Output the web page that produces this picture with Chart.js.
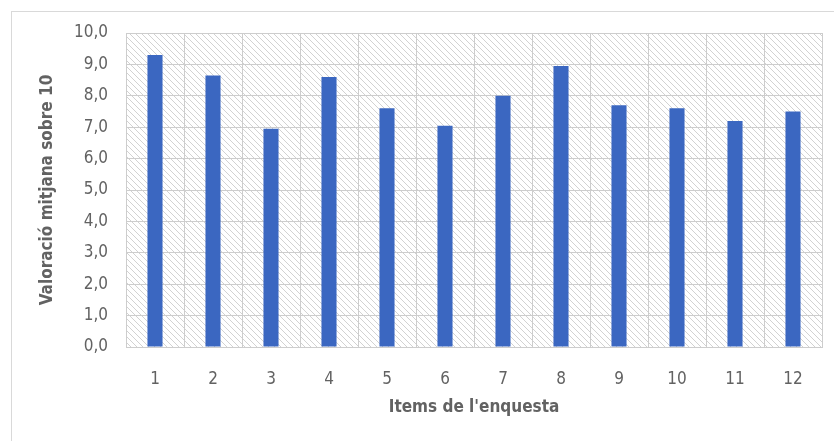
<!DOCTYPE html>
<html>
<head>
<meta charset="utf-8">
<script src="https://cdn.jsdelivr.net/npm/chart.js@4/dist/chart.umd.min.js"></script>
<style>
  html, body { margin: 0; padding: 0; background: #fff; }
  #wrap { position: relative; width: 834px; height: 441px; overflow: hidden; }
  #frame { position: absolute; left: 11px; top: 11px; width: 900px; height: 500px; border: 1px solid #d9d9d9; box-sizing: border-box; }
  #chartBox { position: absolute; left: 0; top: 0; width: 834px; height: 441px; }
</style>
</head>
<body>
<div id="wrap">
  <div id="frame"></div>
  <div id="chartBox"><canvas id="chart"></canvas></div>
</div>
<script>
// ── data ───────────────────────────────────────────────
const ITEMS  = ['1','2','3','4','5','6','7','8','9','10','11','12'];
const SCORES = [9.3, 8.65, 6.95, 8.6, 7.6, 7.05, 8.0, 8.95, 7.7, 7.6, 7.2, 7.5];
const Y_TITLE = 'Valoració mitjana sobre 10';
const X_TITLE = "Items de l'enquesta";

const FONT = "'Liberation Sans Narrow', 'DejaVu Sans Condensed', Arial, sans-serif";
const TXT  = '#626262';
const GRID = '#cdcdcd';

// diagonal hatch behind the plot area
function makeHatch() {
  const c = document.createElement('canvas');
  c.width = 6; c.height = 6;
  const g = c.getContext('2d');
  g.fillStyle = '#ffffff';
  g.fillRect(0, 0, 6, 6);
  g.strokeStyle = '#d2d2d2';
  g.lineWidth = 1;
  g.beginPath();
  g.moveTo(-1, -1); g.lineTo(7, 7);
  g.moveTo(-7, -1); g.lineTo(1, 7);
  g.moveTo(5, -1);  g.lineTo(13, 7);
  g.stroke();
  return g.createPattern(c, 'repeat');
}

const hatchBg = {
  id: 'hatchBg',
  beforeDraw(chart) {
    const { ctx, chartArea: a } = chart;
    ctx.save();
    ctx.fillStyle = makeHatch();
    ctx.fillRect(a.left, a.top, a.right - a.left, a.bottom - a.top);
    ctx.restore();
  }
};

new Chart(document.getElementById('chart'), {
  type: 'bar',
  data: {
    labels: ITEMS,
    datasets: [{
      data: SCORES,
      backgroundColor: '#3b67c1',
      borderWidth: 0,
      categoryPercentage: 1,
      barPercentage: 0.26
    }]
  },
  options: {
    responsive: true,
    maintainAspectRatio: false,
    animation: false,
    layout: { padding: { top: 33, right: 12, left: 30, bottom: 19 } },
    plugins: { legend: { display: false }, tooltip: { enabled: false } },
    scales: {
      x: {
        grid: { color: GRID, drawTicks: false, offset: true },
        border: { color: GRID },
        ticks: { color: TXT, font: { family: FONT, size: 17 }, padding: 22 },
        title: { display: true, text: X_TITLE, color: TXT, font: { family: FONT, size: 17, weight: 'bold' }, padding: { top: 3 } },
        afterFit: s => { s.height = 75; }
      },
      y: {
        min: 0, max: 10,
        grid: { color: GRID, drawTicks: false },
        border: { color: GRID },
        ticks: {
          stepSize: 1, color: TXT, font: { family: FONT, size: 17 }, padding: 18,
          callback: v => v.toFixed(1).replace('.', ',')
        },
        title: { display: true, text: Y_TITLE, color: TXT, font: { family: FONT, size: 17, weight: 'bold' }, padding: { top: 7, bottom: 4 } },
        afterFit: s => { s.width = 96; }
      }
    }
  },
  plugins: [hatchBg]
});
</script>
</body>
</html>
